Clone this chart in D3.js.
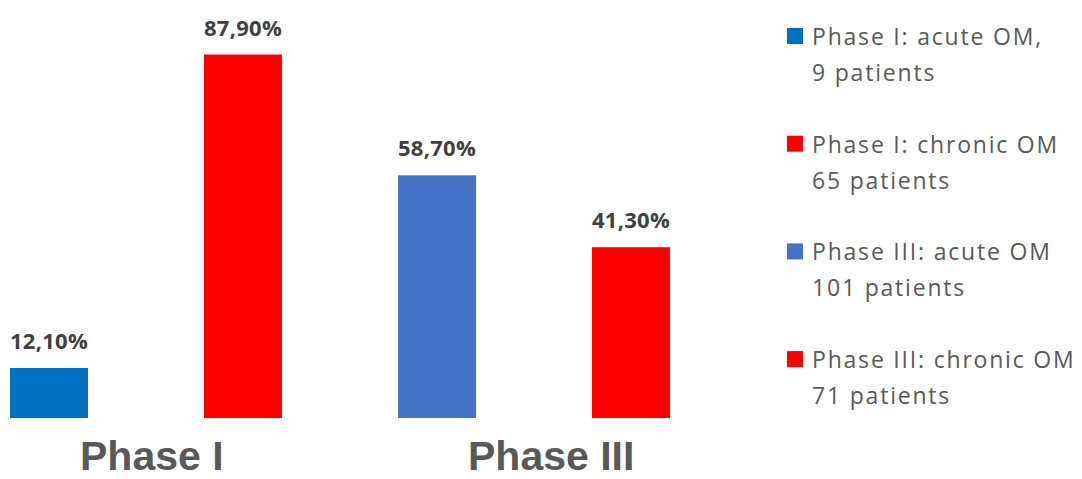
<!DOCTYPE html>
<html>
<head>
<meta charset="utf-8">
<script src="https://cdn.jsdelivr.net/npm/d3@7"></script>
<style>
  body { margin: 0; background: #fff; }
</style>
</head>
<body>
<script>
var w = 1082;
var h = 479;

// data
var series = ["Phase I: acute OM", "Phase I: chronic OM", "Phase III: acute OM", "Phase III: chronic OM"];
var values = [12.1, 87.9, 58.7, 41.3];
var labels = ["12,10%", "87,90%", "58,70%", "41,30%"];
var colours = ["#0070C0", "#FF0000", "#4472C4", "#FF0000"];
var phases = ["Phase I", "Phase III"];
var phaseFirst = [0, 2]; // index of first bar in each phase
var legendLines = [
  ["Phase I: acute OM,", "9 patients"],
  ["Phase I: chronic OM", "65 patients"],
  ["Phase III: acute OM", "101 patients"],
  ["Phase III: chronic OM", "71 patients"]
];

var svg = d3.select("body").append("svg")
            .attr("width", w)
            .attr("height", h);

var x = d3.scaleBand()
          .domain(series)
          .range([10, 670])
          .paddingInner(0.598)
          .paddingOuter(0);

var y = d3.scaleLinear()
          .domain([0, 100])
          .range([418, 4.5]);

// bars
svg.selectAll("rect.bar")
   .data(values)
   .enter()
   .append("rect")
   .attr("class", "bar")
   .attr("x", function(d, i){ return x(series[i]); })
   .attr("y", function(d){ return y(d); })
   .attr("width", x.bandwidth())
   .attr("height", function(d){ return y(0) - y(d); })
   .attr("fill", function(d, i){ return colours[i]; });

// value labels
svg.selectAll("text.val")
   .data(values)
   .enter()
   .append("text")
   .attr("class", "val")
   .attr("x", function(d, i){ return x(series[i]) + x.bandwidth() / 2; })
   .attr("y", function(d){ return y(d) - 19; })
   .attr("text-anchor", "middle")
   .style("font-family", "'Open Sans', sans-serif")
   .style("font-weight", "bold")
   .style("font-size", "22px")
   .style("letter-spacing", "0.3px")
   .style("fill", "#404040")
   .text(function(d, i){ return labels[i]; });

// phase labels
svg.selectAll("text.phase")
   .data(phases)
   .enter()
   .append("text")
   .attr("class", "phase")
   .attr("x", function(d, i){ return x(series[phaseFirst[i]]) + 70; })
   .attr("y", 470)
   .style("font-family", "'Liberation Sans', Arial, sans-serif")
   .style("font-weight", "bold")
   .style("font-size", "41px")
   .style("fill", "#595959")
   .text(function(d){ return d; });

// legend
var legend = svg.selectAll("g.legend")
                .data(series)
                .enter()
                .append("g")
                .attr("class", "legend")
                .attr("transform", function(d, i){ return "translate(787," + (28 + i * 107.7) + ")"; });

legend.append("rect")
      .attr("width", 16)
      .attr("height", 16)
      .attr("fill", function(d, i){ return colours[i]; });

legend.each(function(d, i){
  var g = d3.select(this);
  legendLines[i].forEach(function(line, j){
    g.append("text")
     .attr("x", 25)
     .attr("y", 17 + j * 36)
     .style("font-family", "'Open Sans', sans-serif")
     .style("font-size", "23px")
     .style("letter-spacing", "1.8px")
     .style("fill", "#595959")
     .text(line);
  });
});
</script>
</body>
</html>
